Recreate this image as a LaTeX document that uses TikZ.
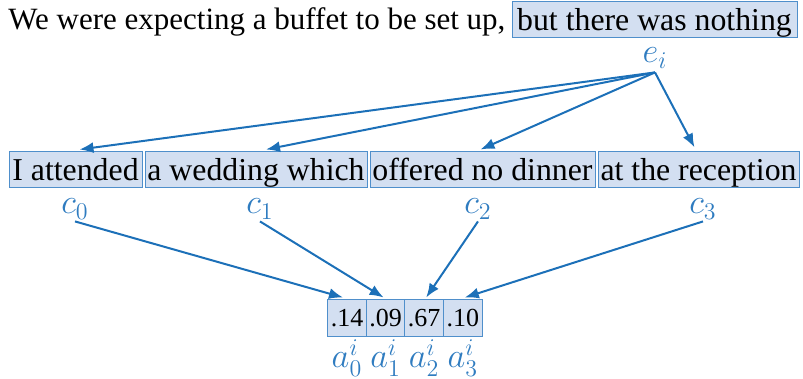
\documentclass[tikz,border=0pt]{standalone}
\usepackage{fontspec}
\setmainfont{Liberation Serif}
\usetikzlibrary{arrows.meta,calc}
\definecolor{boxfill}{HTML}{D3DFF1}
\definecolor{boxline}{HTML}{4F8FCB}
\definecolor{arr}{HTML}{1C70B8}
\definecolor{lab}{HTML}{2F7CC0}
\begin{document}
\begin{tikzpicture}[x=0.5pt,y=-0.5pt,
  every node/.style={font=\fontsize{15.9}{19}\selectfont},
  seg/.style={draw=boxline,fill=boxfill,line width=0.5pt,inner sep=0pt,text height=14.5pt,text depth=3.5pt},
  cell/.style={draw=boxline,fill=boxfill,line width=0.5pt,inner sep=0pt,text height=13.5pt,text depth=4.5pt,minimum width=19.3pt,font=\fontsize{13}{15}\selectfont},
  lbl/.style={text=lab,inner sep=1pt,font=\fontsize{17}{19}\selectfont},
  arw/.style={draw=arr,line width=1pt,-{Latex[length=7pt,width=5.5pt]}}]
\useasboundingbox (0,0) rectangle (803,379);
% top sentence
\node[anchor=base west,inner sep=0pt,font=\fontsize{15.5}{19}\selectfont] (s1) at (8,30) {We were expecting a buffet to be set up,};
\node[seg,minimum width=142.5pt] (s2) at (654.5,20) {but there was nothing};
\node[lbl] (e) at (655,58) {$e_i$};
% clause boxes
\node[seg,minimum width=66.5pt] (b1) at (75.5,170) {I attended};
\node[seg,minimum width=111pt] (b2) at (256,170) {a wedding which};
\node[seg,minimum width=112.5pt] (b3) at (482.5,170) {offered no dinner};
\node[seg,minimum width=100.5pt] (b4) at (698.5,170) {at the reception};
% c labels
\node[lbl] (c0) at (75,209) {$c_0$};
\node[lbl] (c1) at (260,209) {$c_1$};
\node[lbl] (c2) at (478,209) {$c_2$};
\node[lbl] (c3) at (703,209) {$c_3$};
% attention cells
\node[cell] (a0) at (347,318) {.14};
\node[cell] (a1) at (385.6,318) {.09};
\node[cell] (a2) at (424.2,318) {.67};
\node[cell] (a3) at (462.8,318) {.10};
\node[lbl] (l0) at (347,358) {$a_0^i$};
\node[lbl] (l1) at (385.6,358) {$a_1^i$};
\node[lbl] (l2) at (424.2,358) {$a_2^i$};
\node[lbl] (l3) at (462.8,358) {$a_3^i$};
% arrows from e_i
\coordinate (eo) at ($(e.south)+(0,2)$);
\draw[arw] (eo) -- ($(b1.north)+(4,-2)$);
\draw[arw] (eo) -- ($(b2.north)+(10,-2)$);
\draw[arw] (eo) -- ($(b3.north)+(-2,-2)$);
\draw[arw] (eo) -- ($(b4.north)+(-4,-4)$);
% arrows from c to cells
\draw[arw] (c0.south) -- ($(a0.north)+(-4,-2)$);
\draw[arw] (c1.south) -- ($(a1.north)+(-2,-2)$);
\draw[arw] (c2.south) -- ($(a2.north)+(2,-2)$);
\draw[arw] (c3.south) -- ($(a3.north)+(2,-2)$);
\end{tikzpicture}
\end{document}
